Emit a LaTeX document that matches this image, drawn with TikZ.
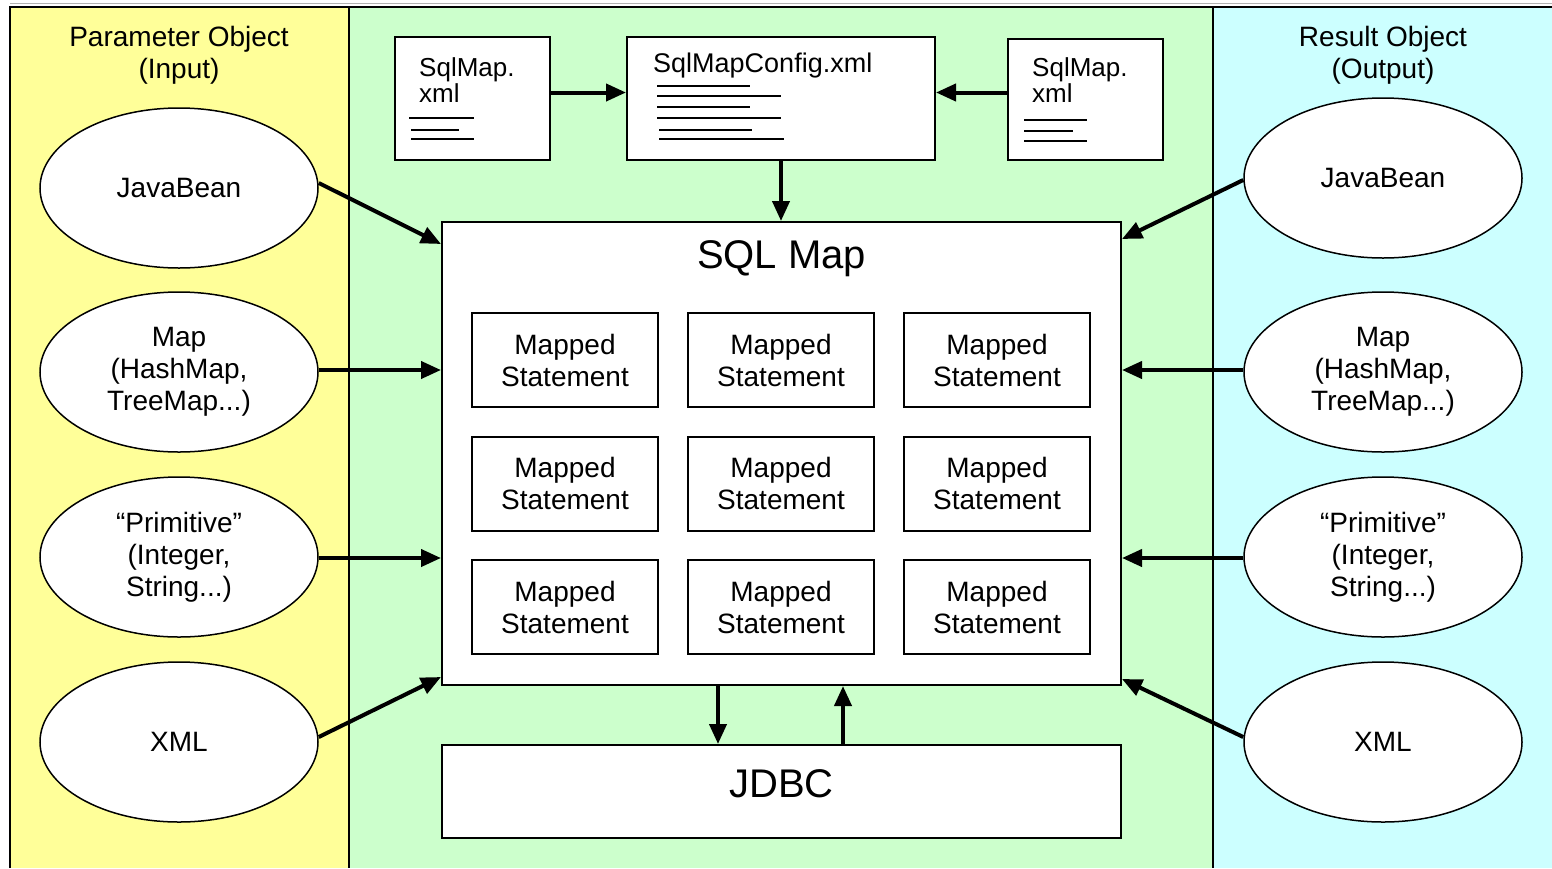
\documentclass[tikz,border=0pt]{standalone}
\usepackage{fontspec}
\setmainfont{Liberation Sans}
\usetikzlibrary{shapes.geometric,arrows.meta}
\definecolor{panelyellow}{HTML}{FFFF99}
\definecolor{panelgreen}{HTML}{CCFFCC}
\definecolor{panelcyan}{HTML}{CCFFFF}
\tikzset{
  txt/.style={font=\fontsize{28}{32}\selectfont, align=center, inner sep=0pt},
  bigtxt/.style={font=\fontsize{40}{44}\selectfont, inner sep=0pt},
  obj/.style={ellipse, draw, line width=1.5pt, fill=white, minimum width=278pt, minimum height=160pt, inner sep=0pt, txt},
  stmt/.style={draw, line width=2pt, fill=white, minimum width=186pt, minimum height=94pt, inner sep=0pt, txt},
  wbox/.style={draw, line width=2pt, fill=white, inner sep=0pt},
  conn/.style={line width=4pt, -{Triangle[length=20pt,width=17pt]}},
  docline/.style={line width=2pt},
  panelline/.style={line width=2pt}
}
\begin{document}
\begin{tikzpicture}[x=1pt,y=-1pt]
\useasboundingbox (0,0) rectangle (1552,868);
% panels
\fill[white] (0,0) rectangle (1552,868);
\fill[panelyellow] (10,7) rectangle (349,868);
\fill[panelgreen] (349,7) rectangle (1213,868);
\fill[panelcyan] (1213,7) rectangle (1552,868);
\draw[gray!60, line width=1pt] (10,3) -- (1552,3);
\draw[panelline] (10,868) -- (10,7) -- (1552,7);
\draw[panelline] (349,7) -- (349,868);
\draw[panelline] (1213,7) -- (1213,868);
% panel titles
\node[txt] (ptitle) at (179,55) {Parameter Object\\(Input)};
\node[txt] (rtitle) at (1383,55) {Result Object\\(Output)};
% ellipses left
\node[obj] (pj) at (179,188) {JavaBean};
\node[obj] (pm) at (179,372) {Map\\(HashMap,\\TreeMap...)};
\node[obj] (pp) at (179,557) {“Primitive”\\(Integer,\\String...)};
\node[obj] (px) at (179,742) {XML};
% ellipses right
\node[obj] (rj) at (1383,178) {JavaBean};
\node[obj] (rm) at (1383,372) {Map\\(HashMap,\\TreeMap...)};
\node[obj] (rp) at (1383,557) {“Primitive”\\(Integer,\\String...)};
\node[obj] (rx) at (1383,742) {XML};
% top boxes
\node[wbox, minimum width=155pt, minimum height=123pt] (sm1) at (472.5,98.5) {};
\node[wbox, minimum width=308pt, minimum height=123pt] (cfg) at (781,98.5) {};
\node[wbox, minimum width=155pt, minimum height=121pt] (sm2) at (1085.5,99.5) {};
\node[txt, anchor=west, align=left, font=\fontsize{26}{26}\selectfont] (sm1t) at (419,80) {SqlMap.\\xml};
\node[txt, anchor=west, align=left, font=\fontsize{26}{26}\selectfont] (sm2t) at (1032,80) {SqlMap.\\xml};
\node[txt, anchor=west, font=\fontsize{27}{30}\selectfont] (cfgt) at (653,66) {SqlMapConfig.xml};
% doc lines
\draw[docline] (409,118) -- (474,118) (411,129.5) -- (459,129.5) (411,139) -- (474,139);
\draw[docline] (1024,120) -- (1087,120) (1024,131) -- (1073,131) (1024,141) -- (1087,141);
\draw[docline] (657,85.5) -- (750,85.5) (657,95.5) -- (781,95.5) (657,106.5) -- (750,106.5)
  (657,118) -- (781,118) (659,129.5) -- (752,129.5) (659,139) -- (784,139);
% SQL Map
\node[wbox, minimum width=679pt, minimum height=463pt] (sqlmap) at (781.5,453.5) {};
\node[bigtxt] (sqltitle) at (781.5,259) {SQL Map};
\node[stmt] (s11) at (565,360) {Mapped\\Statement};
\node[stmt] (s12) at (781,360) {Mapped\\Statement};
\node[stmt] (s13) at (997,360) {Mapped\\Statement};
\node[stmt] (s21) at (565,483.5) {Mapped\\Statement};
\node[stmt] (s22) at (781,483.5) {Mapped\\Statement};
\node[stmt] (s23) at (997,483.5) {Mapped\\Statement};
\node[stmt] (s31) at (565,607) {Mapped\\Statement};
\node[stmt] (s32) at (781,607) {Mapped\\Statement};
\node[stmt] (s33) at (997,607) {Mapped\\Statement};
% JDBC
\node[wbox, minimum width=679pt, minimum height=93pt] (jdbc) at (781.5,791.5) {};
\node[bigtxt] (jdbct) at (781.5,784) {JDBC};
% connectors top
\draw[conn] ([yshift=6pt]sm1.east) -- ([yshift=6pt]cfg.west);
\draw[conn] ([yshift=7pt]sm2.west) -- ([yshift=6pt]cfg.east);
\draw[conn] (cfg.south) -- (cfg.south |- sqlmap.north);
% connectors left
\draw[conn] ([yshift=5pt]pj.east) -- ([yshift=-23pt]sqlmap.north west);
\draw[conn] ([yshift=2pt]pm.east) -- ([yshift=2pt]pm.east -| sqlmap.west);
\draw[conn] ([yshift=-1pt]pp.east) -- ([yshift=-1pt]pp.east -| sqlmap.west);
\draw[conn] ([yshift=5pt]px.east) -- ([yshift=9pt]sqlmap.south west);
% connectors right
\draw[conn] ([yshift=-2pt]rj.west) -- ([yshift=-18pt]sqlmap.north east);
\draw[conn] ([yshift=2pt]rm.west) -- ([yshift=2pt]rm.west -| sqlmap.east);
\draw[conn] ([yshift=-1pt]rp.west) -- ([yshift=-1pt]rp.west -| sqlmap.east);
\draw[conn] ([yshift=5pt]rx.west) -- ([yshift=7pt]sqlmap.south east);
% JDBC connectors
\draw[conn] ([xshift=-63.5pt]sqlmap.south) -- ([xshift=-63.5pt]jdbc.north);
\draw[conn] ([xshift=61.5pt]jdbc.north) -- ([xshift=61.5pt]sqlmap.south);
\end{tikzpicture}
\end{document}
